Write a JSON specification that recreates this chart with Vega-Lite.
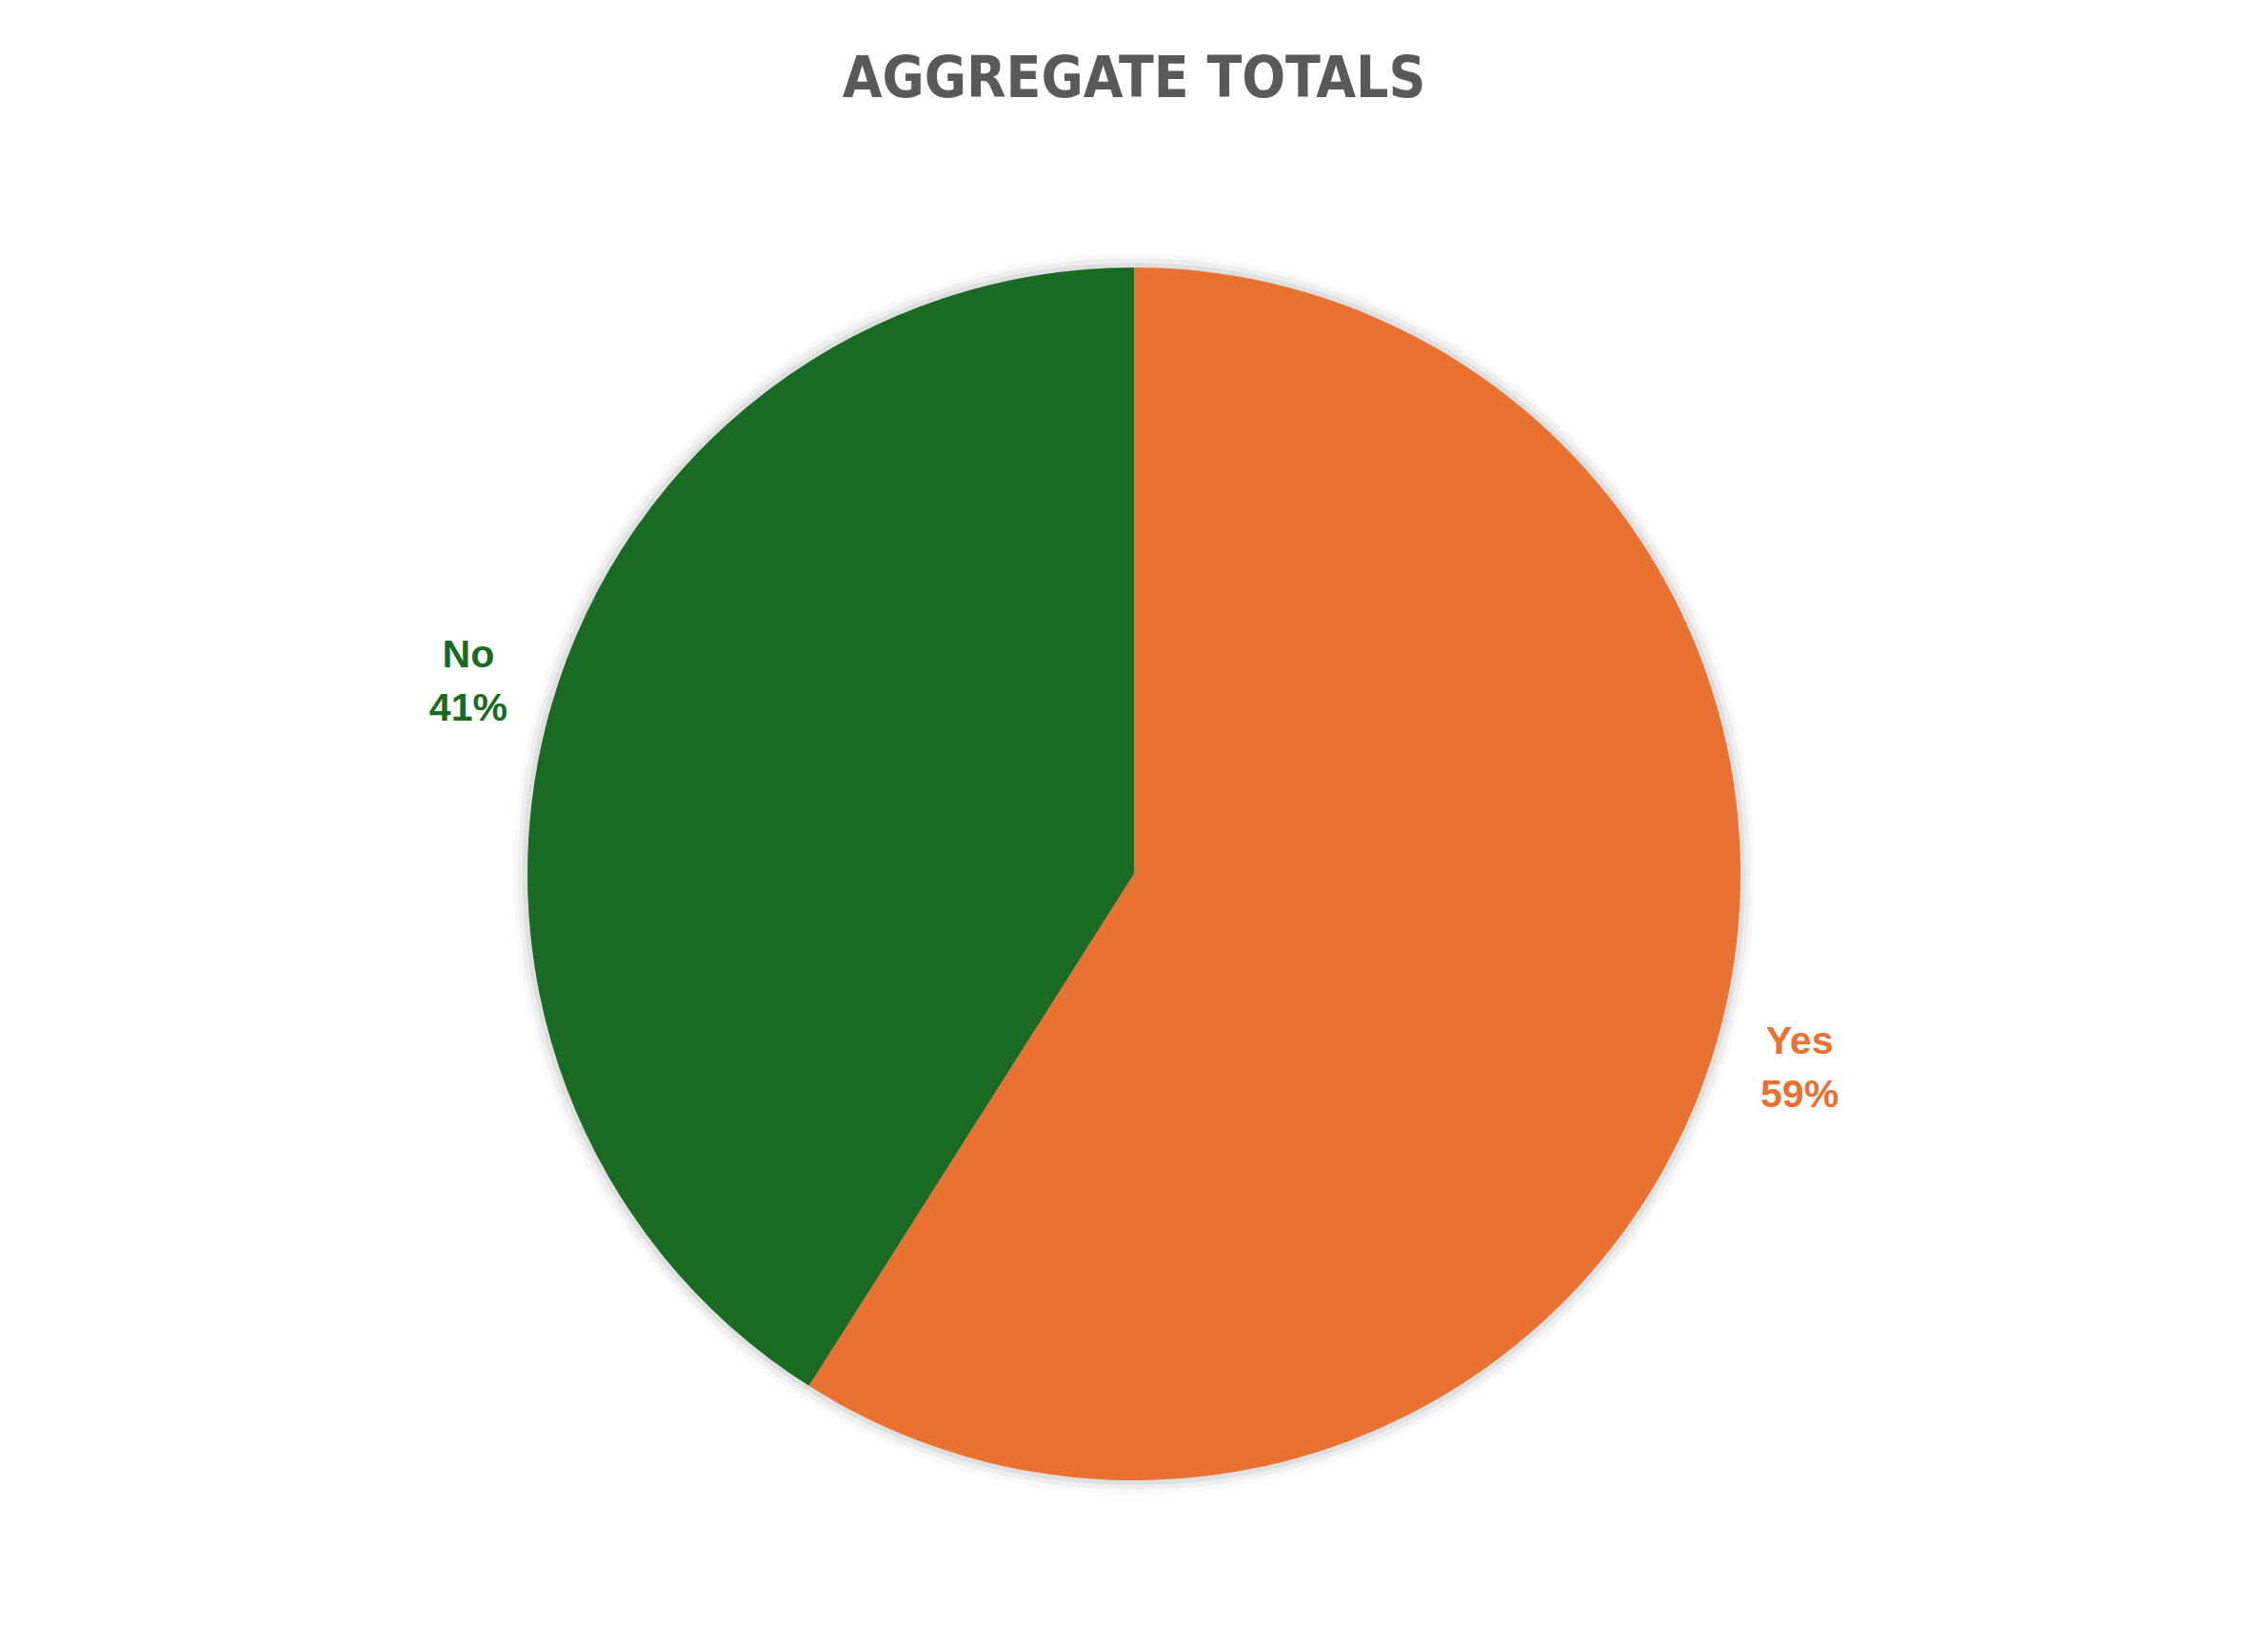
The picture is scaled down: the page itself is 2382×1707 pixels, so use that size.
{
  "$schema": "https://vega.github.io/schema/vega-lite/v6.json",
  "width": 2382,
  "height": 1578,
  "autosize": {"type": "none"},
  "padding": {"top": 129, "left": 0, "right": 0, "bottom": 0},
  "background": "white",
  "title": {
    "text": "AGGREGATE TOTALS",
    "font": "DejaVu Sans Condensed, sans-serif",
    "fontSize": 60,
    "fontWeight": "bold",
    "color": "#595959",
    "anchor": "middle",
    "offset": 14
  },
  "config": {"view": {"stroke": null}},
  "layer": [
    {
      "data": {"values": [{"ring": "shadow"}]},
      "mark": {"type": "arc", "outerRadius": 652, "fill": "#000000", "fillOpacity": 0.025},
      "encoding": {}
    },
    {
      "data": {"values": [{"ring": "shadow"}]},
      "mark": {"type": "arc", "outerRadius": 647, "fill": "#000000", "fillOpacity": 0.04},
      "encoding": {}
    },
    {
      "data": {"values": [{"ring": "shadow"}]},
      "mark": {"type": "arc", "outerRadius": 642, "fill": "#000000", "fillOpacity": 0.06},
      "encoding": {}
    },
    {
      "data": {"values": [{"answer": "Yes", "share": 59}, {"answer": "No", "share": 41}]},
      "mark": {"type": "arc", "outerRadius": 637},
      "encoding": {
        "theta": {"field": "share", "type": "quantitative", "stack": true},
        "order": {"field": "share", "sort": "descending"},
        "color": {
          "field": "answer", "type": "nominal",
          "scale": {"domain": ["Yes", "No"], "range": ["#E97132", "#196B24"]},
          "legend": null
        }
      }
    },
    {
      "data": {"values": [{"answer": "Yes", "share": 59}, {"answer": "No", "share": 41}]},
      "transform": [{"calculate": "datum.answer + '\\n' + datum.share + '%'", "as": "label"}],
      "mark": {
        "type": "text", "radius": 728, "font": "Liberation Sans", "fontSize": 41,
        "fontWeight": "bold", "lineBreak": "\n", "lineHeight": 56,
        "align": "center", "baseline": "middle", "dy": -26
      },
      "encoding": {
        "theta": {"field": "share", "type": "quantitative", "stack": true},
        "order": {"field": "share", "sort": "descending"},
        "color": {
          "field": "answer", "type": "nominal",
          "scale": {"domain": ["Yes", "No"], "range": ["#E97132", "#196B24"]},
          "legend": null
        },
        "text": {"field": "label", "type": "nominal"}
      }
    }
  ]
}
